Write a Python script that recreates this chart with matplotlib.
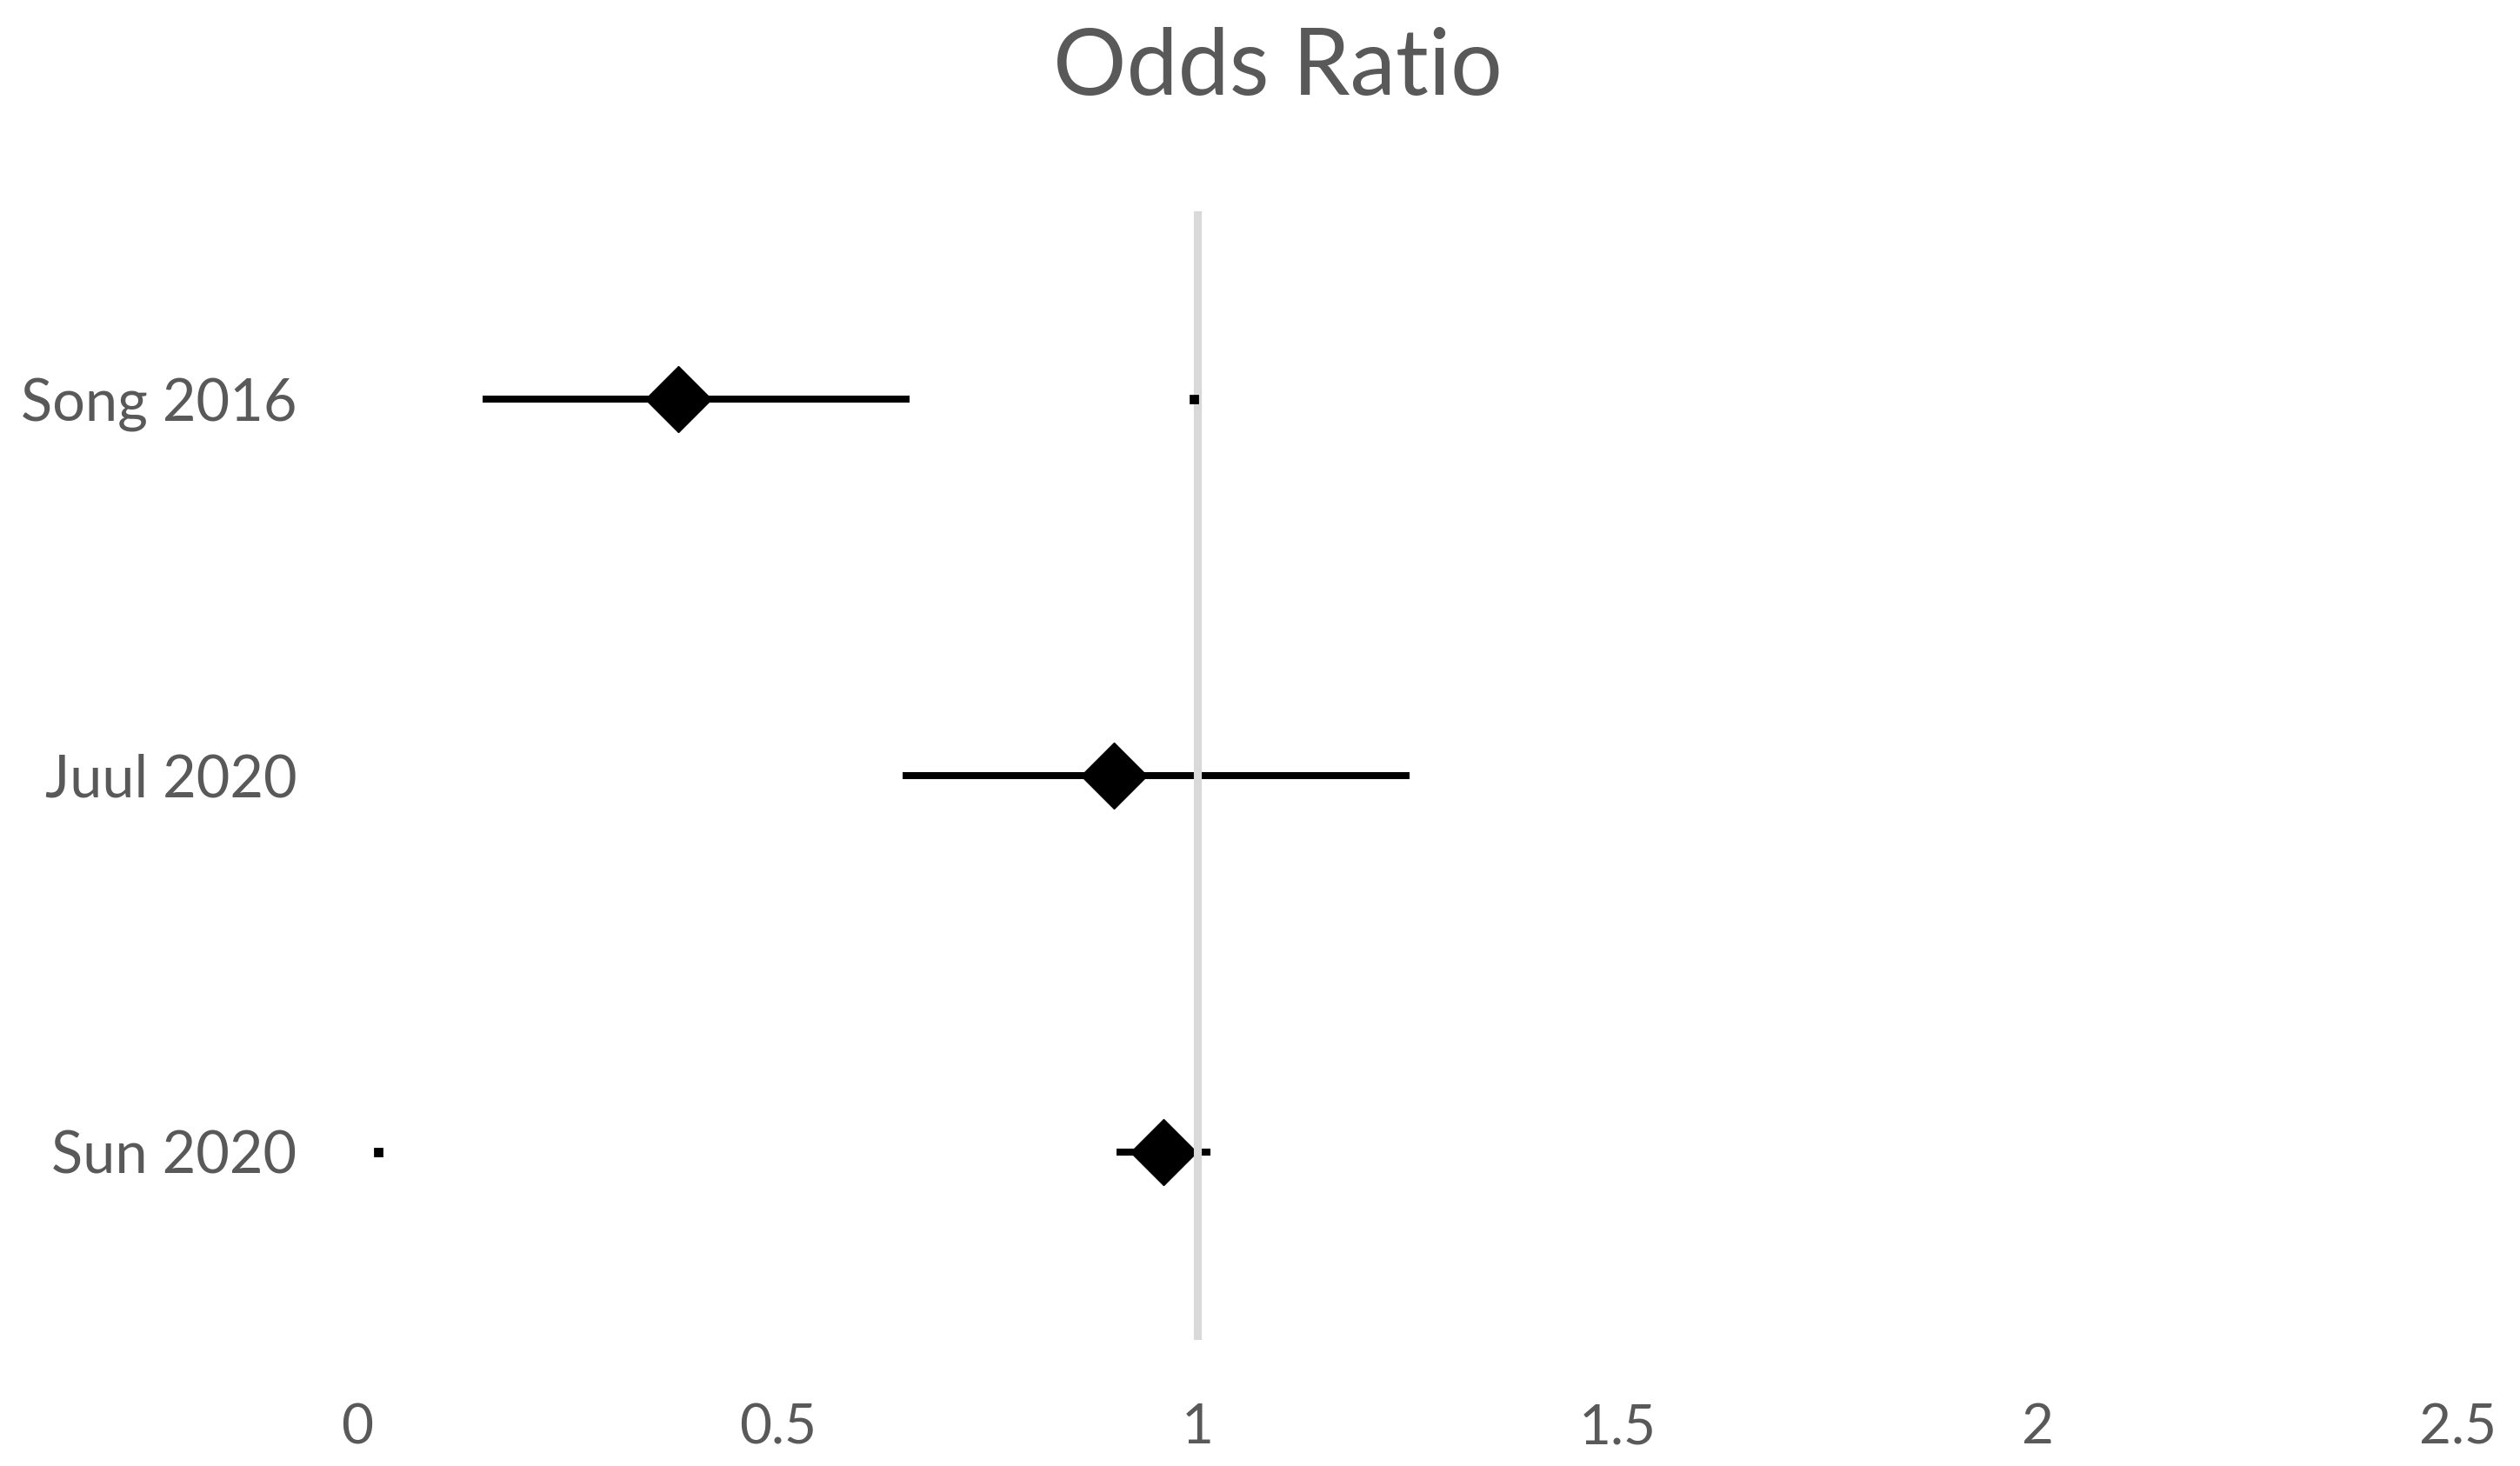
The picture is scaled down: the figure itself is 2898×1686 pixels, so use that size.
import numpy as np
import matplotlib
matplotlib.use('Agg')
import matplotlib.pyplot as plt

# data
studies = ['Song 2016', 'Juul 2020', 'Sun 2020']
odds_ratio = [0.382, 0.900, 0.959]
ci_low = [0.149, 0.649, 0.903]
ci_high = [0.657, 1.252, 1.015]
# little stray marks that sit in the original chart
stray_x = [0.995, 0.025]
stray_study = ['Song 2016', 'Sun 2020']
ref_line = 1.0
x_ticks = [0, 0.5, 1, 1.5, 2, 2.5]
x_tick_labels = ['0', '0.5', '1', '1.5', '2', '2.5']

plt.rcParams['font.family'] = ['Lato', 'DejaVu Sans']
txt_col = '#595959'

fig = plt.figure(figsize=(14.49, 8.43), dpi=200)
ax = fig.add_axes([0.1418, 0.0860, 0.8337, 0.7699])

ypos = {s: len(studies) - i for i, s in enumerate(studies)}
y = np.array([ypos[s] for s in studies])
xr = np.array(odds_ratio)
xerr = [xr - np.array(ci_low), np.array(ci_high) - xr]

ax.errorbar(xr, y, xerr=xerr, fmt='none', ecolor='black', elinewidth=2.9,
            capsize=0, zorder=2)
ax.plot(xr, y, linestyle='none', marker='D', markersize=19.5,
        markerfacecolor='black', markeredgecolor='black', markeredgewidth=0.5,
        zorder=3)
ax.axvline(ref_line, color='#d9d9d9', linewidth=3.3, zorder=4)
ax.plot(stray_x, [ypos[s] for s in stray_study], linestyle='none', marker='s',
        markersize=3, color='black', zorder=5)

ax.set_xlim(0, 2.5)
ax.set_ylim(0.5, len(studies) + 0.5)
ax.set_xticks(x_ticks)
ax.set_xticklabels(x_tick_labels)
ax.set_yticks(y)
ax.set_yticklabels(studies)
ax.tick_params(axis='x', length=0, pad=26, labelsize=23, labelcolor=txt_col)
ax.tick_params(axis='y', length=0, pad=25, labelsize=24, labelcolor=txt_col)
for sp in ax.spines.values():
    sp.set_visible(False)

fig.text(0.507, 0.953, 'Odds Ratio', ha='center', va='center',
         fontsize=38, color=txt_col)

fig.savefig('out.png', dpi=200, facecolor='white')
